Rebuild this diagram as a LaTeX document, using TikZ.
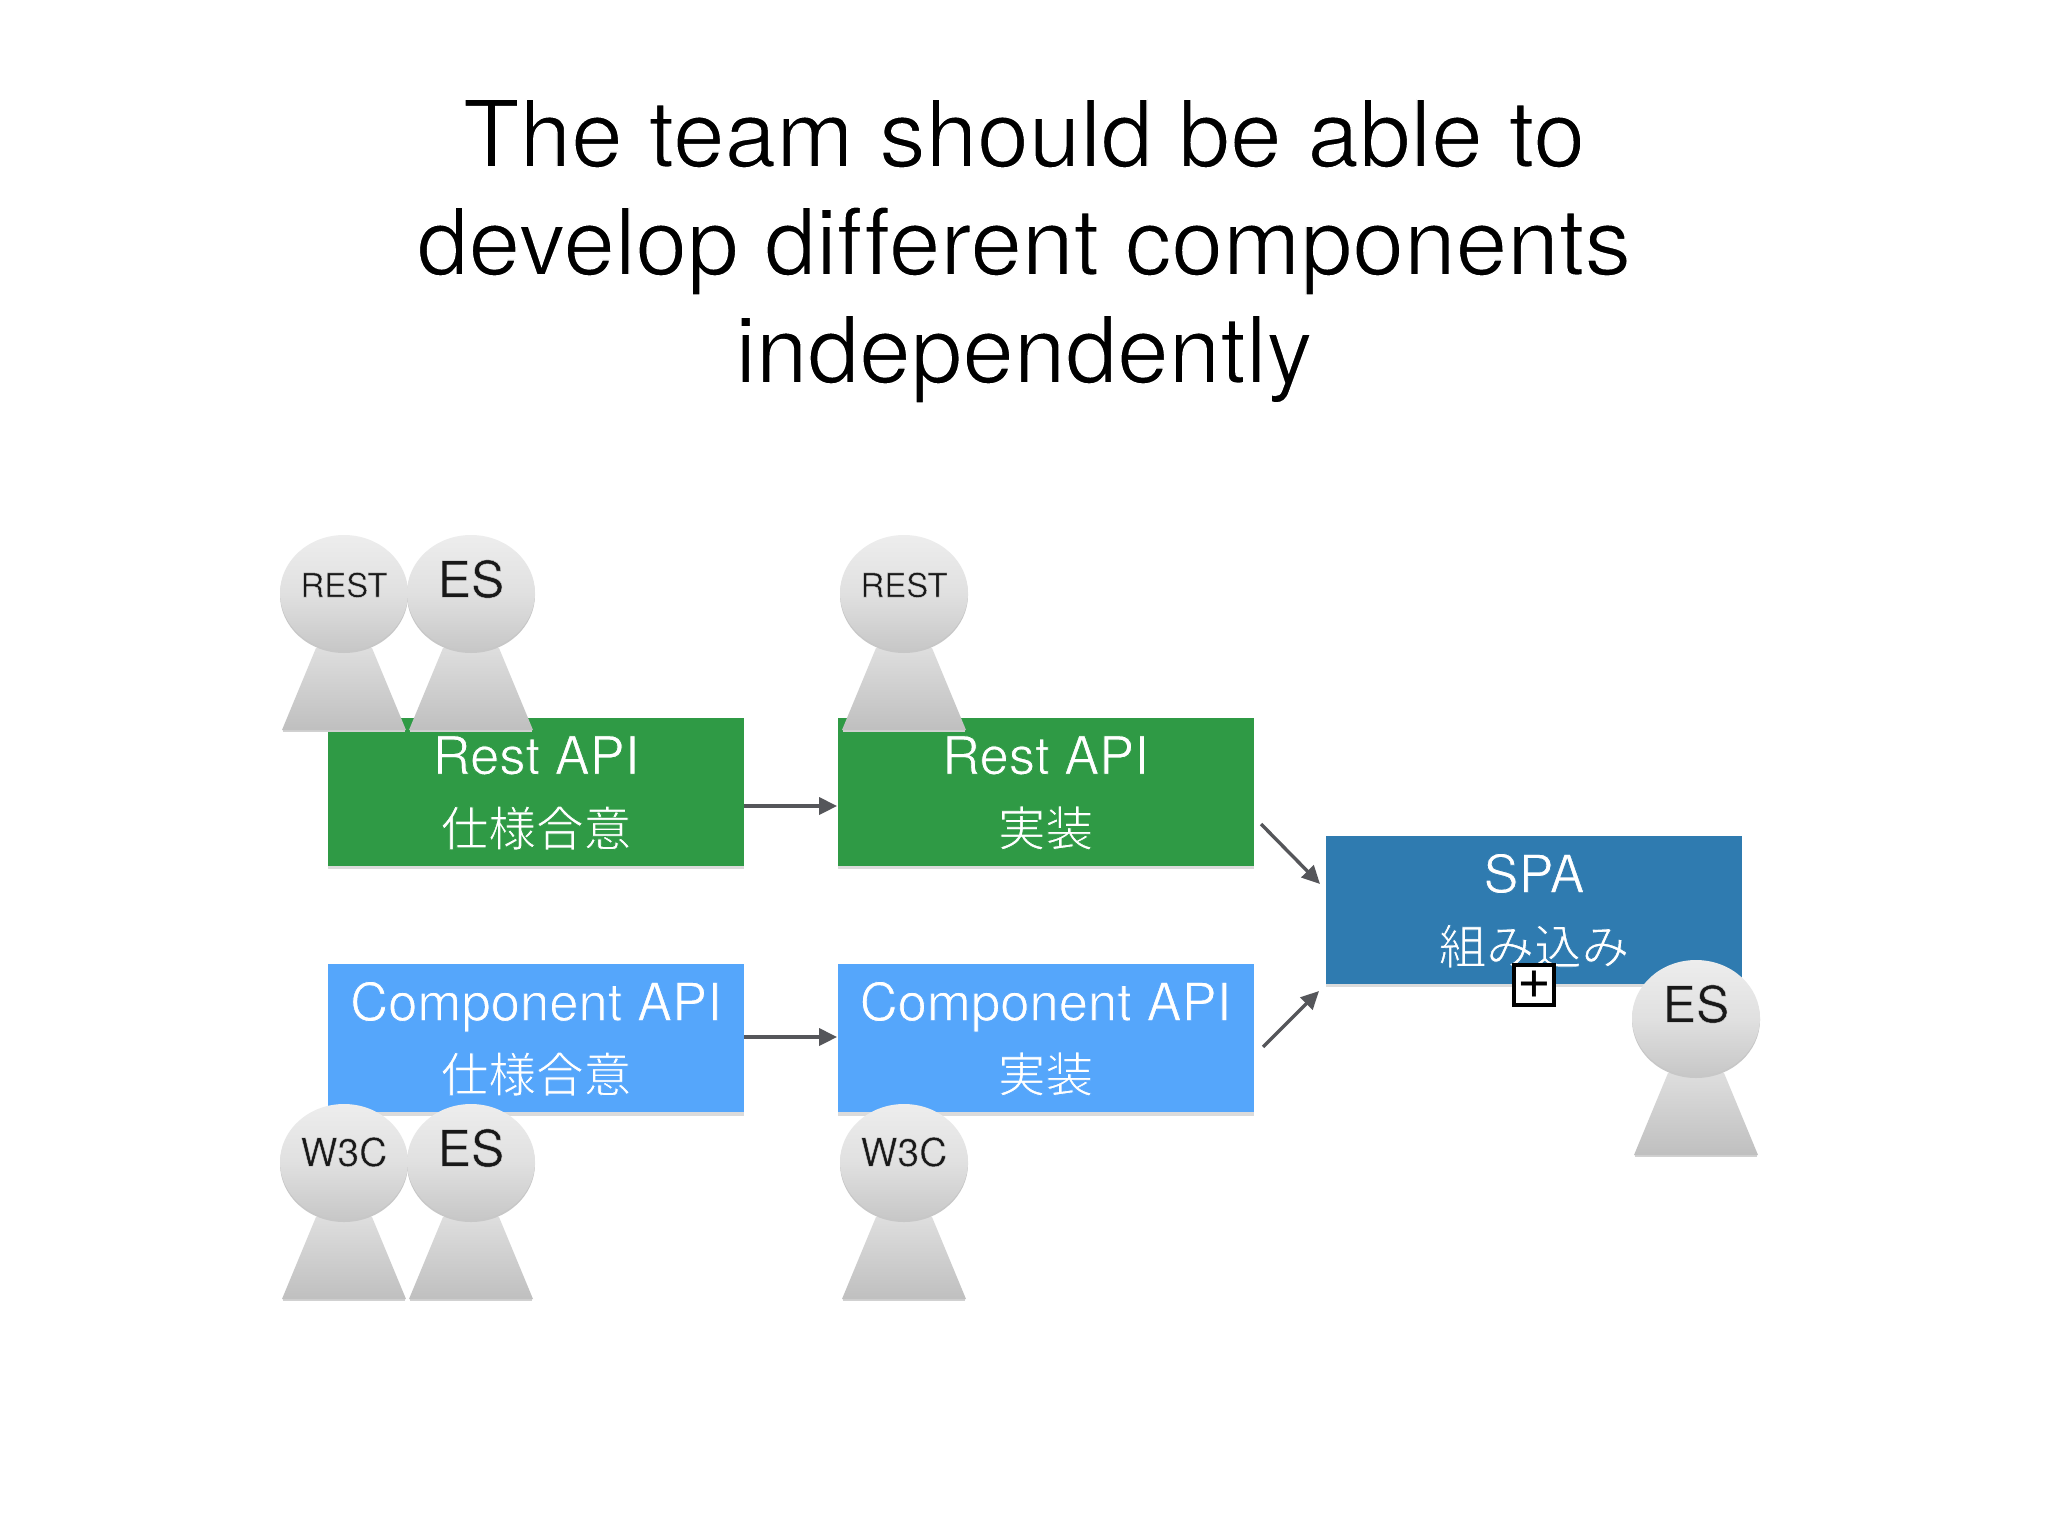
\documentclass[tikz,border=0pt]{standalone}
\usepackage{fontspec}
\setmainfont[Ligatures=NoCommon]{TeX Gyre Heros}
\newfontfamily\cjk{Noto Sans CJK JP}
\usetikzlibrary{shapes.geometric,arrows.meta}
\definecolor{greenbox}{HTML}{2F9A45}
\definecolor{lightblue}{HTML}{55A6FB}
\definecolor{spablue}{HTML}{2F7BB0}
\definecolor{arrowgrey}{HTML}{55565A}
% thin the glyphs by stroking them with the colour behind them
\newcommand{\thintext}[3]{\special{pdf:code 2 Tr #1 w #2 RG}#3\special{pdf:code 0 Tr}}
\tikzset{
  taskbox/.style={minimum width=208pt,minimum height=74pt,inner sep=0pt,text=white},
  tasktext/.style={text=white,inner sep=0pt,text depth=0pt,font=\fontsize{26.3}{30}\selectfont},
  cjktext/.style={text=white,inner sep=0pt,font=\cjk\fontsize{23.8}{28}\selectfont},
  flow/.style={draw=arrowgrey,line width=1.7pt,-{Triangle[length=9pt,width=8.5pt]}},
  personhead/.style={ellipse,minimum width=64pt,minimum height=58pt,inner sep=0pt,top color=white!93!black,bottom color=black!22,middle color=black!12},
  personbody/.style={top color=black!13,bottom color=black!25},
  personname/.style={inner sep=0pt,text=black!90},
}
\newcommand{\greentxt}[1]{\thintext{0.4}{0.184 0.604 0.271}{#1}}
\newcommand{\lighttxt}[1]{\thintext{0.4}{0.333 0.651 0.984}{#1}}
\newcommand{\spatxt}[1]{\thintext{0.4}{0.184 0.482 0.690}{#1}}
\newcommand{\greytxt}[1]{\thintext{0.2}{0.85 0.85 0.85}{#1}}
\newcommand{\personfig}[6]{%
  % #1 name, #2 x, #3 y of head centre, #4 label, #5 font size, #6 label dy
  \fill[black!18] (#2-61,#3+139) -- (#2+61,#3+139) -- (#2+61,#3+137) -- (#2-61,#3+137) -- cycle;
  \path[personbody] (#2-28,#3+55) -- (#2+28,#3+55) -- (#2+62,#3+137) -- (#2-62,#3+137) -- cycle;
  \node[black!22,fill,ellipse,minimum width=64pt,minimum height=58pt,inner sep=0pt] at (#2,#3+2) {};
  \node[personhead] (#1) at (#2,#3) {};
  \node[personname,font=\fontsize{#5}{#5}\selectfont] (#1t) at (#2,#3+#6) {\greytxt{#4}};
}
\begin{document}
\begin{tikzpicture}[x=0.5pt,y=-0.5pt]
\useasboundingbox[fill=white] (0,0) rectangle (2048,1536);
\node[inner sep=0pt,align=center,text=black,font=\fontsize{46.4}{54}\selectfont] (title) at (1024,251)
  {\thintext{0.7}{1 1 1}{The team should be able to}\\\thintext{0.7}{1 1 1}{develop different components}\\\thintext{0.7}{1 1 1}{independently}};
% shadows
\foreach \cx/\cy in {536/792,1045.5/792,536/1038.5,1045.5/1038.5,1534/909.5}
  \fill[black!14] (\cx-208,\cy-74+3) rectangle (\cx+208,\cy+74+3);
% boxes
\node[taskbox,fill=greenbox] (ra) at (536,792) {};
\node[taskbox,fill=greenbox] (rb) at (1045.5,792) {};
\node[taskbox,fill=lightblue] (ca) at (536,1038) {};
\node[taskbox,fill=lightblue] (cb) at (1045.5,1038) {};
\node[taskbox,fill=spablue] (spa) at (1534,909.5) {};
% texts
\node[tasktext] (rat) at (536,755) {\greentxt{Rest API}};
\node[cjktext] (rac) at (536,828) {\greentxt{仕様合意}};
\node[tasktext] (rbt) at (1045.5,755) {\greentxt{Rest API}};
\node[cjktext] (rbc) at (1045.5,828) {\greentxt{実装}};
\node[tasktext] (cat) at (536,1001) {\lighttxt{Component API}};
\node[cjktext] (cac) at (536,1074) {\lighttxt{仕様合意}};
\node[tasktext] (cbt) at (1045.5,1001) {\lighttxt{Component API}};
\node[cjktext] (cbc) at (1045.5,1074) {\lighttxt{実装}};
\node[tasktext] (spat) at (1534,873) {\spatxt{SPA}};
\node[cjktext] (spac) at (1534,946) {\spatxt{組み込み}};
% connectors
\draw[flow] (ra.east |- 0,806) -- (rb.west |- 0,806);
\draw[flow] (ca.east |- 0,1037) -- (cb.west |- 0,1037);
\coordinate (d1s) at (1261,824);
\coordinate (d1e) at (1320,884);
\coordinate (d2s) at (1263,1047);
\coordinate (d2e) at (1319,991);
\draw[flow] (d1s) -- (d1e);
\draw[flow] (d2s) -- (d2e);
% people
\personfig{p1}{344}{593}{REST}{16.5}{-8}
\personfig{p2}{471}{593}{ES}{25}{-14}
\personfig{p3}{904}{593}{REST}{16.5}{-8}
\personfig{p4}{344}{1162}{W3C}{19.5}{-10}
\personfig{p5}{471}{1162}{ES}{25}{-14}
\personfig{p6}{904}{1162}{W3C}{19.5}{-10}
\personfig{p7}{1696}{1018}{ES}{25}{-14}
% plus box
\node[draw=black,fill=white,line width=2pt,minimum size=20pt,inner sep=0pt,font=\fontsize{29}{29}\selectfont] (plus) at (1534,985) {+};
\end{tikzpicture}
\end{document}
